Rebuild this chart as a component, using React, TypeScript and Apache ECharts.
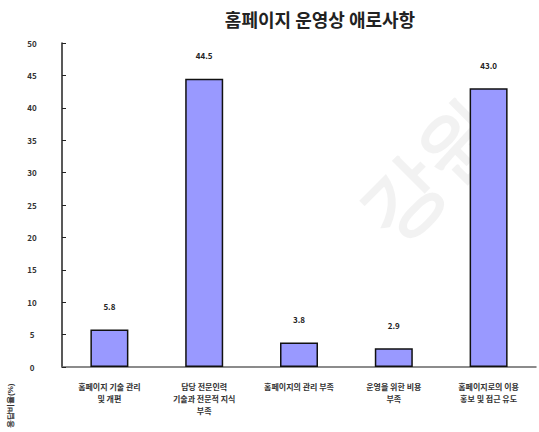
import React, { useEffect, useRef } from "react";
import * as echarts from "echarts";

const categories = [
  "홈페이지 기술 관리\n및 개편",
  "담당 전문인력\n기술과 전문적 지식\n부족",
  "홈페이지의 관리 부족",
  "운영을 위한 비용\n부족",
  "홈페이지로의 이용\n홍보 및 접근 유도",
];
const values = [5.8, 44.5, 3.8, 2.9, 43.0];
const valueLabels = ["5.8", "44.5", "3.8", "2.9", "43.0"];
const yTicks = [0, 5, 10, 15, 20, 25, 30, 35, 40, 45, 50];

export default function App() {
  const ref = useRef<HTMLDivElement>(null);
  useEffect(() => {
    document.body.style.margin = "0";
    const chart = echarts.init(ref.current!, null, { renderer: "svg" });
    chart.setOption({
      animation: false,
      backgroundColor: "#ffffff",
      textStyle: { fontFamily: "'Noto Sans CJK KR', 'Noto Sans', sans-serif" },
      title: {
        text: "홈페이지 운영상 애로사항",
        left: 315,
        top: 5,
        textAlign: "center",
        textStyle: { fontSize: 18, fontWeight: "bold", color: "#222" },
      },
      grid: { left: 62, right: 3, top: 43, bottom: 65, containLabel: false },
      xAxis: {
        type: "category",
        data: categories,
        axisLine: { lineStyle: { color: "#666", width: 1.5 } },
        axisTick: { inside: true, length: 4, lineStyle: { color: "#444" } },
        axisLabel: {
          interval: 0,
          fontSize: 8,
          fontWeight: "bold",
          color: "#333",
          lineHeight: 12,
          margin: 13,
        },
      },
      yAxis: {
        type: "value",
        min: yTicks[0],
        max: yTicks[yTicks.length - 1],
        interval: 5,
        splitLine: { show: false },
        axisLine: { show: true, lineStyle: { color: "#222", width: 1.5 } },
        axisTick: { show: true, inside: true, length: 4, lineStyle: { color: "#222" } },
        axisLabel: {
          fontSize: 8,
          fontWeight: "bold",
          color: "#333",
          margin: 30,
          align: "center",
        },
      },
      graphic: [
        {
          type: "text",
          left: 345,
          top: 85,
          rotation: Math.PI / 4,
          z: 0,
          silent: true,
          style: {
            text: "강원",
            fontSize: 80,
            fontWeight: "bold",
            fill: "rgba(0,0,0,0.05)",
          },
        },
        {
          type: "text",
          x: 10,
          y: 428,
          rotation: Math.PI / 2,
          style: {
            text: "응답비율(%)",
            fontSize: 8,
            fontWeight: "bold",
            fill: "#333",
            textVerticalAlign: "middle",
          },
        },
      ],
      series: [
        {
          type: "bar",
          data: values.map((v, i) => ({
            value: v,
            label: { formatter: valueLabels[i] },
          })),
          barWidth: 38,
          itemStyle: { color: "#9999ff", borderColor: "#111", borderWidth: 1.5 },
          label: {
            show: true,
            position: "top",
            distance: 19,
            fontSize: 8,
            fontWeight: "bold",
            color: "#222",
          },
        },
      ],
    });
    return () => chart.dispose();
  }, []);
  return <div ref={ref} style={{ width: 539, height: 432 }} />;
}
